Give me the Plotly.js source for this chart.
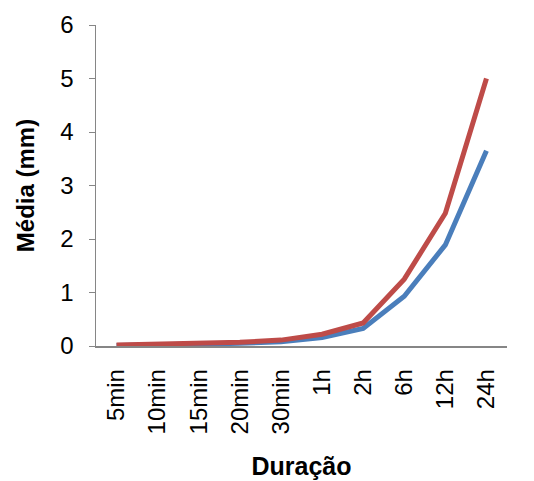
<!DOCTYPE html>
<html><head><meta charset="utf-8">
<script src="https://cdn.plot.ly/plotly-3.0.1.min.js"></script>
<style>html,body{margin:0;padding:0;background:#fff;}#chart{width:534px;height:481px;}</style>
</head><body><div id="chart"></div>
<script>
const categories = ["5min","10min","15min","20min","30min","1h","2h","6h","12h","24h"];
const serieVermelha = [0.02,0.03,0.05,0.07,0.11,0.22,0.43,1.25,2.48,5.0];
const serieAzul = [0.01,0.02,0.03,0.05,0.08,0.16,0.33,0.93,1.89,3.65];
const yTicks = [0,1,2,3,4,5,6];

const traces = [
  {x: categories, y: serieAzul, type: 'scatter', mode: 'lines', line: {color: '#4A7EBB', width: 5}, showlegend: false},
  {x: categories, y: serieVermelha, type: 'scatter', mode: 'lines', line: {color: '#BE4B48', width: 5}, showlegend: false}
];
const layout = {
  width: 534, height: 481,
  margin: {l: 96, r: 27, t: 25, b: 135},
  paper_bgcolor: '#fff', plot_bgcolor: '#fff',
  font: {family: 'Liberation Sans, Arial, sans-serif', size: 24, color: '#000'},
  xaxis: {
    type: 'category', tickangle: -90, showgrid: false, zeroline: false,
    showline: true, linecolor: '#868686', linewidth: 1.5, ticks: '',
    ticklabelstandoff: 12,
    range: [-0.5, 9.5],
    title: {text: '<b>Duração</b>', font: {size: 25}, standoff: 24}
  },
  yaxis: {
    range: [0, 6], tickvals: yTicks, showgrid: false, zeroline: false,
    showline: true, linecolor: '#868686', linewidth: 1.5, ticks: 'outside', ticklen: 6, tickcolor: '#868686',
    ticklabelstandoff: 10,
    title: {text: '<b>Média (mm)</b>', font: {size: 24}, standoff: 19}
  }
};
Plotly.newPlot('chart', traces, layout, {staticPlot: true});
</script></body></html>
